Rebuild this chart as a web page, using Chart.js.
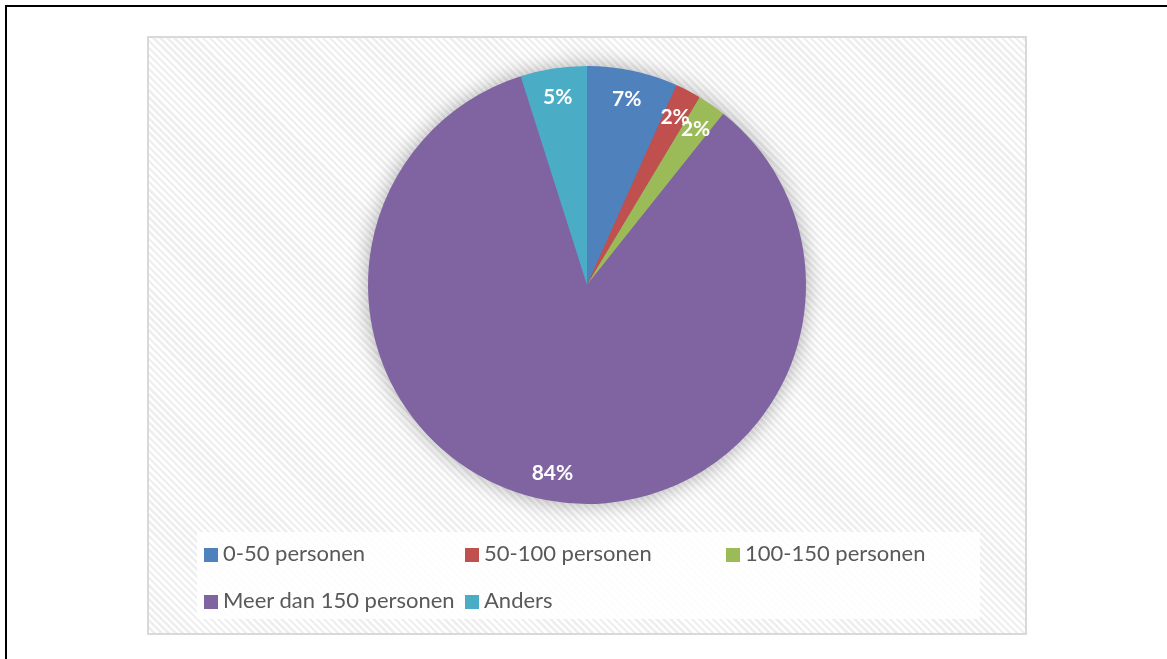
<!DOCTYPE html>
<html>
<head>
<meta charset="utf-8">
<script src="https://cdn.jsdelivr.net/npm/chart.js@4"></script>
<style>
  body { margin: 0; background: #fff; width: 1167px; height: 659px; overflow: hidden; position: relative; }
  #frame { position: absolute; left: 5px; top: 5px; width: 1200px; height: 700px; border: 2px solid #000; }
  #box {
    position: absolute; left: 147px; top: 36px; width: 876px; height: 595px;
    border: 2px solid #d9d9d9;
    background: repeating-linear-gradient(45deg, #ffffff 0px, #ffffff 2.5px, #efefef 2.5px, #efefef 5px);
  }
  #myChart { position: absolute; left: 0; top: 0; }
  #legend {
    position: absolute; left: 48px; top: 494px; width: 783px; height: 87px;
    background: rgba(255,255,255,0.88);
    font-family: Lato, "Open Sans", sans-serif; font-size: 22px; color: #595959;
  }
  .item { position: absolute; height: 24px; line-height: 24px; white-space: nowrap; }
  .item span.sw { display: inline-block; width: 14px; height: 14px; margin-right: 5px; vertical-align: -1px; }
</style>
</head>
<body>
<div id="frame"></div>
<div id="box">
  <canvas id="myChart" width="876" height="595"></canvas>
  <div id="legend"></div>
</div>
<script>
const categories = ['0-50 personen', '50-100 personen', '100-150 personen', 'Meer dan 150 personen', 'Anders'];
const values = [6.7, 1.9, 2.1, 84.4, 4.9];
const colors = ['#4F81BD', '#C0504D', '#9BBB59', '#8064A2', '#4BACC6'];

// soft shadow behind the pie
const pieShadow = {
    id: 'pieShadow',
    beforeDatasetsDraw(chart) {
        const arc = chart.getDatasetMeta(0).data[0]
        if (!arc) return
        const c = chart.ctx
        c.save()
        c.shadowColor = 'rgba(0,0,0,0.35)'
        c.shadowBlur = 22
        c.fillStyle = '#8064A2'
        c.beginPath()
        c.arc(arc.x, arc.y, arc.outerRadius - 1, 0, Math.PI * 2)
        c.fill()
        c.restore()
    }
}

// percentage labels inside the slices
const pctLabels = {
    id: 'pctLabels',
    afterDatasetsDraw(chart) {
        const c = chart.ctx
        const data = chart.data.datasets[0].data
        c.save()
        c.font = 'bold 21px Lato, "Open Sans", sans-serif'
        c.fillStyle = '#fff'
        c.textAlign = 'center'
        c.textBaseline = 'middle'
        chart.getDatasetMeta(0).data.forEach((arc, i) => {
            const mid = (arc.startAngle + arc.endAngle) / 2
            const r = arc.outerRadius * 0.87
            c.fillText(Math.round(data[i]) + '%', arc.x + Math.cos(mid) * r, arc.y + Math.sin(mid) * r + 1)
        })
        c.restore()
    }
}

const ctx = document.getElementById('myChart')
const chart1 = new Chart(ctx, {
    type: 'pie',
    data: {
        labels: categories,
        datasets: [{
            data: values,
            backgroundColor: colors,
            borderWidth: 0
        }]
    },
    options: {
        responsive: false,
        animation: false,
        layout: { padding: { top: 28, bottom: 129 } },
        plugins: {
            legend: { display: false },
            tooltip: { enabled: false }
        }
    },
    plugins: [pieShadow, pctLabels]
})

// legend laid out in a grid like the original
const legend = document.getElementById('legend')
categories.forEach((name, i) => {
    const el = document.createElement('div')
    el.className = 'item'
    el.style.left = (7 + (i % 3) * 261) + 'px'
    el.style.top = (9 + Math.floor(i / 3) * 47) + 'px'
    el.innerHTML = '<span class="sw" style="background:' + colors[i] + '"></span>' + name
    legend.appendChild(el)
})
</script>
</body>
</html>
